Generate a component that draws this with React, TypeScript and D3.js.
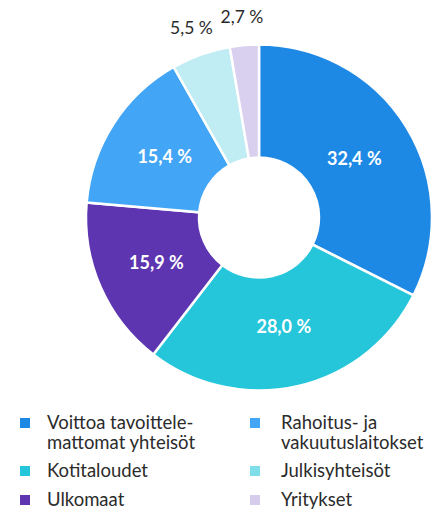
import React from "react";
import * as d3 from "d3";

const categories = [
  "Voittoa tavoittele-|mattomat yhteisöt",
  "Kotitaloudet",
  "Ulkomaat",
  "Rahoitus- ja|vakuutuslaitokset",
  "Julkisyhteisöt",
  "Yritykset",
];
const values = [32.4, 28.0, 15.9, 15.4, 5.5, 2.7];
const valueLabels = ["32,4 %", "28,0 %", "15,9 %", "15,4 %", "5,5 %", "2,7 %"];
const sliceColors = ["#1E88E5", "#26C6DA", "#5E35B1", "#42A5F5", "#BFEDF3", "#D9CFEE"];
const legendColors = ["#1E88E5", "#26C6DA", "#5E35B1", "#42A5F5", "#80DEEA", "#D6CCEC"];
const insideLabel = [true, true, true, true, false, false];
const legendOrder = [0, 1, 2, 3, 4, 5];

const W = 438;
const H = 511;
const cx = 259;
const cy = 217.5;
const outerR = 173;
const innerR = 60;
const FONT = "Lato, 'Open Sans', sans-serif";

export default function App() {
  const pie = d3.pie<number>().sort(null).value((d) => d);
  const arcs = pie(values);
  const arc = d3.arc<d3.PieArcDatum<number>>().innerRadius(innerR).outerRadius(outerR);
  const labelArc = d3.arc<d3.PieArcDatum<number>>().innerRadius(112).outerRadius(112);
  const outerLabelArc = d3.arc<d3.PieArcDatum<number>>().innerRadius(201).outerRadius(201);

  const colX = [20, 250];
  const textX = [47, 281];
  const rowY = [429, 477, 506];

  return (
    <svg width={W} height={H} style={{ position: "absolute", left: 0, top: 0 }}>
      <g transform={`translate(${cx},${cy})`}>
        {arcs.map((a, i) => (
          <path key={i} d={arc(a) || ""} fill={sliceColors[i]} stroke="#fff" strokeWidth={2.5} />
        ))}
        {arcs.map((a, i) => {
          const [x, y] = insideLabel[i] ? labelArc.centroid(a) : outerLabelArc.centroid(a);
          return (
            <text
              key={"l" + i}
              x={x}
              y={y}
              dy="0.35em"
              textAnchor="middle"
              fontFamily={FONT}
              fontSize={insideLabel[i] ? 18 : 17.5}
              fontWeight={insideLabel[i] ? 700 : 400}
              fill={insideLabel[i] ? "#fff" : "#2b2b2b"}
            >
              {valueLabels[i]}
            </text>
          );
        })}
      </g>
      {legendOrder.map((idx, k) => {
        const col = k < 3 ? 0 : 1;
        const row = k % 3;
        const lines = categories[idx].split("|");
        const y = rowY[row];
        return (
          <g key={"lg" + idx}>
            <rect x={colX[col]} y={y - 11} width={10} height={10} fill={legendColors[idx]} />
            <text x={textX[col]} y={y} fontFamily={FONT} fontSize={18.5} fill="#2b2b2b">
              {lines.map((ln, j) => (
                <tspan key={j} x={textX[col]} dy={j === 0 ? 0 : 20}>
                  {ln}
                </tspan>
              ))}
            </text>
          </g>
        );
      })}
    </svg>
  );
}
